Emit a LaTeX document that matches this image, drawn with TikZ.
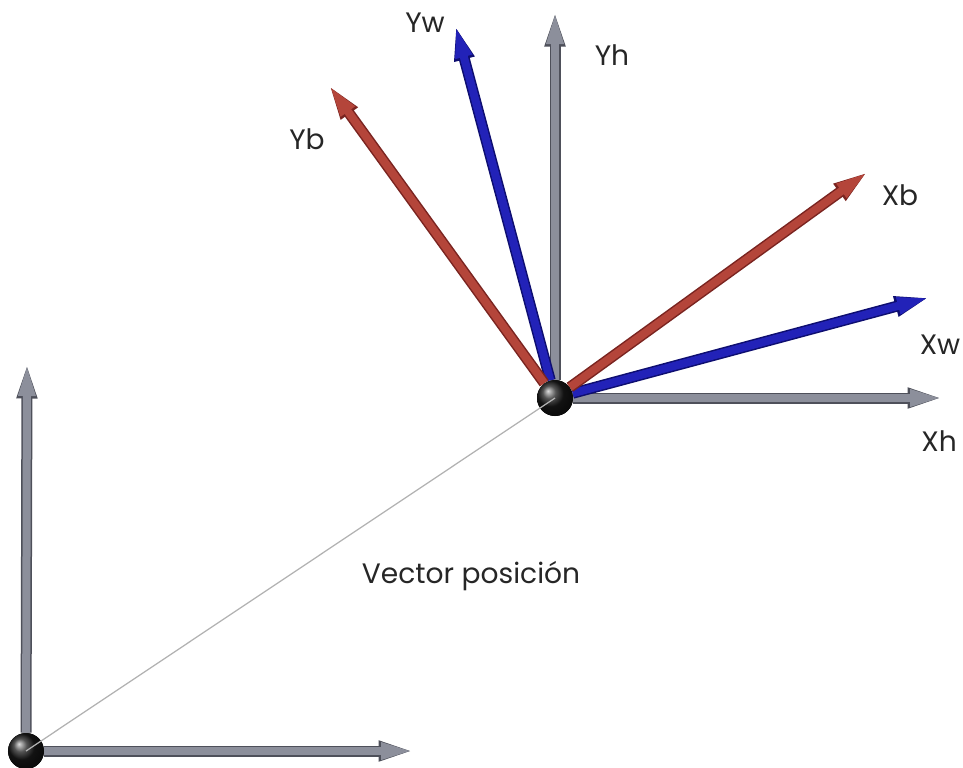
\documentclass[tikz,border=0pt]{standalone}
\usepackage{fontspec}
\setmainfont{Poppins}
\usepackage{tikz}
\usetikzlibrary{arrows.meta, shadings}
\definecolor{grisEje}{HTML}{8C8F9B}
\definecolor{grisBorde}{HTML}{4E505A}
\definecolor{rojoEje}{HTML}{B4453A}
\definecolor{rojoBorde}{HTML}{7A2420}
\definecolor{azulEje}{HTML}{2222B8}
\definecolor{azulBorde}{HTML}{0E0E70}

\begin{document}
\begin{tikzpicture}[
        x=0.2mm, y=-0.2mm,
        eje/.style={line width=1.6mm, -{Triangle[length=6.8mm, width=3.0mm]},
            preaction={draw=#1Borde, line width=2.2mm, -{Triangle[length=7.3mm, width=3.6mm]}},
            draw=#1Eje},
        origen/.style={circle, inner sep=0pt, minimum size=7.2mm, shading=ball, ball color=black!90},
        etiqueta/.style={font=\fontsize{16pt}{18pt}\selectfont, text=black!85},
        posicion/.style={draw=gray!60, line width=0.25mm}
    ]
        \useasboundingbox (0,0) rectangle (963,767);

        % puntas de los ejes
        \coordinate (yo) at (27,362);
        \coordinate (xo) at (415,751);
        \coordinate (xh) at (944,398);
        \coordinate (yh) at (555,10);
        \coordinate (xw) at (931,297);
        \coordinate (yw) at (455,24);
        \coordinate (xb) at (869,171);
        \coordinate (yb) at (328,84);

        \node[origen] (o1) at (26,751) {};
        \node[origen] (o2) at (555,398) {};

        % sistema fijo
        \draw[eje=gris] (o1) -- (yo);
        \draw[eje=gris] (o1) -- (xo);

        % sistemas del cuerpo
        \draw[eje=gris] (o2) -- (yh);
        \draw[eje=gris] (o2) -- (xh);
        \draw[eje=azul] (o2) -- (yw);
        \draw[eje=azul] (o2) -- (xw);
        \draw[eje=rojo] (o2) -- (yb);
        \draw[eje=rojo] (o2) -- (xb);

        \node[origen] at (o1) {};
        \node[origen] at (o2) {};
        \draw[posicion] (o1.center) -- (o2.center);

        \node[etiqueta] (lyh) at (612,55) {Yh};
        \node[etiqueta] (lyw) at (425,23) {Yw};
        \node[etiqueta] (lyb) at (307,139) {Yb};
        \node[etiqueta] (lxb) at (900,195) {Xb};
        \node[etiqueta] (lxw) at (940,345) {Xw};
        \node[etiqueta] (lxh) at (939,441) {Xh};
        \node[etiqueta] (lvec) at (471,576) {Vector posición};
    \end{tikzpicture}
\end{document}
